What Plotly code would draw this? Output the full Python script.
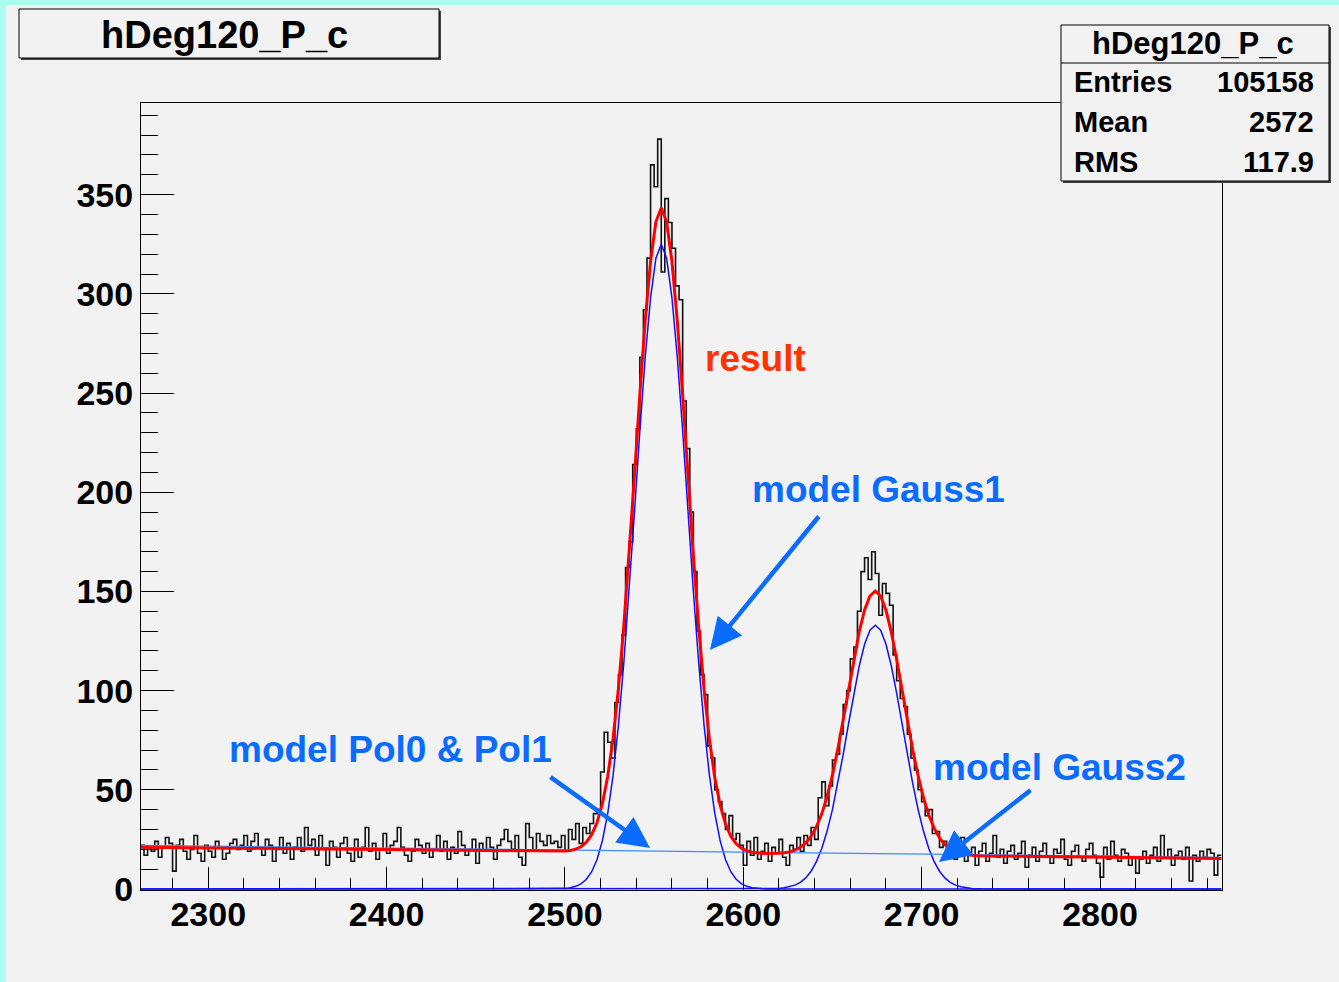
import plotly.graph_objects as go

# ---------------- data ----------------
BIN_START = 2262
BIN_WIDTH = 2

# bin centres 2263 ... 2493
COUNTS_LEFT = [
    22, 17, 21, 19, 24, 16, 21, 26, 23, 9, 22, 25, 19, 15, 20, 27, 18, 14, 22, 19,
    16, 24, 21, 15, 18, 23, 25, 20, 22, 27, 19, 24, 28, 21, 17, 25, 22, 14, 20, 26,
    18, 23, 15, 21, 26, 19, 31, 22, 25, 17, 27, 20, 12, 24, 21, 16, 23, 26, 18, 14,
    25, 16, 21, 31, 19, 23, 15, 20, 28, 18, 22, 24, 31, 21, 17, 14, 19, 25, 22, 18,
    23, 16, 20, 27, 19, 24, 15, 21, 18, 29, 22, 17, 20, 25, 13, 23, 19, 26, 21, 15,
    22, 25, 30, 24, 20, 27, 16, 12, 33, 26, 19, 28, 24, 22, 27, 23,
]
# bin centres 2495 ... 2725
COUNTS_PEAKS = [
    24, 21, 27, 19, 30, 25, 33, 23, 31, 28,
    33, 38, 40, 59, 79, 74, 66, 94, 108, 128,
    162, 175, 214, 232, 268, 292, 318, 365, 354, 378,
    311, 348, 336, 323, 304, 297, 246, 222, 190, 160,
    130, 108, 98, 72, 66, 50, 44, 38, 30, 37,
    25, 28, 22, 12, 24, 17, 26, 15, 19, 23,
    14, 21, 18, 25, 16, 12, 22, 20, 26, 19,
    27, 22, 31, 25, 46, 54, 42, 52, 65, 68,
    78, 93, 100, 116, 122, 140, 160, 167, 156, 170,
    159, 138, 154, 149, 143, 118, 105, 96, 92, 78,
    66, 60, 50, 44, 37, 40, 28, 29, 21, 24,
    18, 22, 15, 20, 26, 14,
]
# bin centres 2727 ... 2867
COUNTS_RIGHT = [
    17, 21, 12, 19, 23, 14, 18, 27, 16, 20,
    13, 19, 22, 15, 18, 24, 11, 17, 21, 14,
    19, 23, 16, 13, 20, 18, 25, 15, 12, 19,
    22, 16, 14, 20, 23, 17, 13, 6, 21, 15,
    24, 17, 14, 20, 18, 12, 16, 8, 15, 19,
    13, 17, 21, 14, 27, 16, 20, 12, 17, 19,
    15, 21, 4, 17, 14, 19, 16, 20, 18, 7,
    17,
]

# fitted components
GAUSS1_X = list(range(2494, 2615, 3))
GAUSS1_Y = [0.06, 0.14, 0.32, 0.67, 1.36, 2.6, 4.9, 8.7, 14.9, 24.4,
            38.2, 57.4, 82.6, 114, 150, 190, 231, 268, 298, 318,
            325,
            318, 298, 268, 231, 190, 150, 114, 82.6, 57.4, 38.2,
            24.4, 14.9, 8.7, 4.9, 2.6, 1.36, 0.67, 0.32, 0.14, 0.06]
GAUSS2_X = list(range(2614, 2735, 3))
GAUSS2_Y = [0.07, 0.15, 0.31, 0.59, 1.1, 1.96, 3.38, 5.6, 8.96, 13.8,
            20.4, 29.2, 40.1, 53.1, 67.8, 83.3, 98.6, 112.4, 123.4, 130.5,
            133,
            130.5, 123.4, 112.4, 98.6, 83.3, 67.8, 53.1, 40.1, 29.2, 20.4,
            13.8, 8.96, 5.6, 3.38, 1.96, 1.1, 0.59, 0.31, 0.15, 0.07]
RESULT_X = [2262] + list(range(2494, 2735, 3)) + [2868]
RESULT_Y = [21.0,
            18.9, 19.0, 19.1, 19.4, 20.1, 21.3, 23.6, 27.4, 33.5, 43.0,
            56.8, 76.0, 101.1, 132.5, 168.5, 208.4, 249.4, 286.4, 316.4, 336.3,
            343.3, 336.3, 316.3, 286.2, 249.2, 208.2, 168.1, 132.1, 100.7, 75.5,
            56.2, 42.4, 32.9, 26.6, 22.8, 20.5, 19.2, 18.5, 18.1, 17.9,
            17.9, 17.9, 18.0, 18.3, 18.7, 19.6, 21.0, 23.2, 26.5, 31.3,
            37.9, 46.6, 57.5, 70.5, 85.2, 100.6, 115.9, 129.7, 140.7, 147.7,
            150.2, 147.7, 140.5, 129.5, 115.7, 100.4, 84.8, 70.1, 57.1, 46.1,
            37.3, 30.7, 25.8, 22.4, 20.2, 18.7, 17.9, 17.3, 17.0, 16.8,
            16.7,
            15.4]
POL_X = [2262, 2868]
POL_Y = [22.0, 15.9]

X_RANGE = [2262.3, 2868.4]
Y_RANGE = [-0.5, 396.2]

HIST_NAME = "hDeg120_P_c"
STATS_ROWS = [("Entries", "105158"), ("Mean", "2572"), ("RMS", "117.9")]
LABELS = ["result", "model Gauss1", "model Pol0 & Pol1", "model Gauss2"]

# ---------------- figure ----------------
W, H = 1339, 982
ML, MR, MT, MB = 141, 117, 103, 92
PW, PH = W - ML - MR, H - MT - MB


def xp(px):
    return (px - ML) / PW


def yp(py):
    return (H - MB - py) / PH


counts = COUNTS_LEFT + COUNTS_PEAKS + COUNTS_RIGHT
edges = [BIN_START + BIN_WIDTH * i for i in range(len(counts) + 1)]

BG = "#f2f2f2"
FONT = "Liberation Sans, Arial, Helvetica, sans-serif"

fig = go.Figure()
fig.add_trace(go.Scatter(x=edges, y=counts + [counts[-1]], mode="lines",
                         line=dict(color="#111111", width=1.6, shape="hv"),
                         hoverinfo="skip"))
fig.add_trace(go.Scatter(x=[2262] + GAUSS1_X + [2868], y=[0] + GAUSS1_Y + [0],
                         mode="lines", line=dict(color="#1010ff", width=1.5)))
fig.add_trace(go.Scatter(x=[2262] + GAUSS2_X + [2868], y=[0] + GAUSS2_Y + [0],
                         mode="lines", line=dict(color="#1010ff", width=1.5)))
fig.add_trace(go.Scatter(x=POL_X, y=POL_Y, mode="lines",
                         line=dict(color="#3a8cff", width=1.3)))
fig.add_trace(go.Scatter(x=RESULT_X, y=RESULT_Y, mode="lines",
                         line=dict(color="#ff0000", width=3)))

tickfont = dict(family=FONT, size=34, color="black", weight="bold")
fig.update_xaxes(range=X_RANGE, showgrid=False, zeroline=False,
                 showline=True, mirror=True, linecolor="black", linewidth=1,
                 ticks="inside", ticklen=23, tickcolor="black", dtick=100, tick0=2300,
                 minor=dict(ticks="inside", ticklen=12, dtick=20, tickcolor="black"),
                 tickfont=tickfont, ticklabelstandoff=-6, layer="below traces")
fig.update_yaxes(range=Y_RANGE, showgrid=False, zeroline=False,
                 showline=True, mirror=True, linecolor="black", linewidth=1,
                 ticks="inside", ticklen=33, tickcolor="black", dtick=50, tick0=0,
                 minor=dict(ticks="inside", ticklen=17, dtick=10, tickcolor="black"),
                 tickfont=tickfont, ticklabelstandoff=0, layer="below traces")

shapes = []
# cyan window frame
shapes.append(dict(type="rect", xref="paper", yref="paper", x0=xp(0), x1=xp(W),
                   y0=yp(0), y1=yp(5), fillcolor="#aaffee", line=dict(width=0)))
shapes.append(dict(type="rect", xref="paper", yref="paper", x0=xp(0), x1=xp(6),
                   y0=yp(0), y1=yp(H), fillcolor="#aaffee", line=dict(width=0)))


def box(x0, y0, x1, y1):
    shapes.append(dict(type="rect", xref="paper", yref="paper",
                       x0=xp(x0 + 2), x1=xp(x1 + 2), y0=yp(y0 + 2), y1=yp(y1 + 2),
                       fillcolor="#444444", line=dict(width=0)))
    shapes.append(dict(type="rect", xref="paper", yref="paper",
                       x0=xp(x0), x1=xp(x1), y0=yp(y0), y1=yp(y1),
                       fillcolor=BG, line=dict(color="black", width=1)))


box(19, 9, 439, 58)
box(1061, 25, 1329, 181)
shapes.append(dict(type="line", xref="paper", yref="paper", x0=xp(1061), x1=xp(1329),
                   y0=yp(63), y1=yp(63), line=dict(color="black", width=1)))

ann = []


def text(s, x, y, size, color="black", xanchor="center"):
    ann.append(dict(text=s, x=xp(x), y=yp(y), xref="paper", yref="paper",
                    xanchor=xanchor, yanchor="middle", showarrow=False,
                    font=dict(family=FONT, size=size, color=color, weight="bold")))


text(HIST_NAME, 224, 35, 38)
text(HIST_NAME, 1193, 44, 31)
for i, (k, v) in enumerate(STATS_ROWS):
    yy = 82 + 40 * i
    text(k, 1072, yy, 29, xanchor="left")
    text(v, 1316, yy, 29, xanchor="right")

BLUE = "#0a6cff"
text(LABELS[0], 755, 358, 37, color="#ff3300")
text(LABELS[1], 878, 489, 37, color=BLUE)
text(LABELS[2], 390, 749, 37, color=BLUE)
text(LABELS[3], 1059, 767, 37, color=BLUE)


def arrow(tx, ty, hx, hy):
    ann.append(dict(text="", x=xp(hx), y=yp(hy), xref="paper", yref="paper",
                    ax=tx - hx, ay=ty - hy, showarrow=True, arrowhead=2,
                    arrowwidth=4.5, arrowsize=1.4, arrowcolor=BLUE,
                    standoff=0, startstandoff=0))


arrow(820, 515, 710, 650)
arrow(549, 776, 650, 848)
arrow(1032, 789, 939, 862)

fig.update_layout(width=W, height=H, margin=dict(l=ML, r=MR, t=MT, b=MB, pad=0),
                  paper_bgcolor=BG, plot_bgcolor=BG, showlegend=False,
                  shapes=shapes, annotations=ann)

fig.write_html("out.html")
